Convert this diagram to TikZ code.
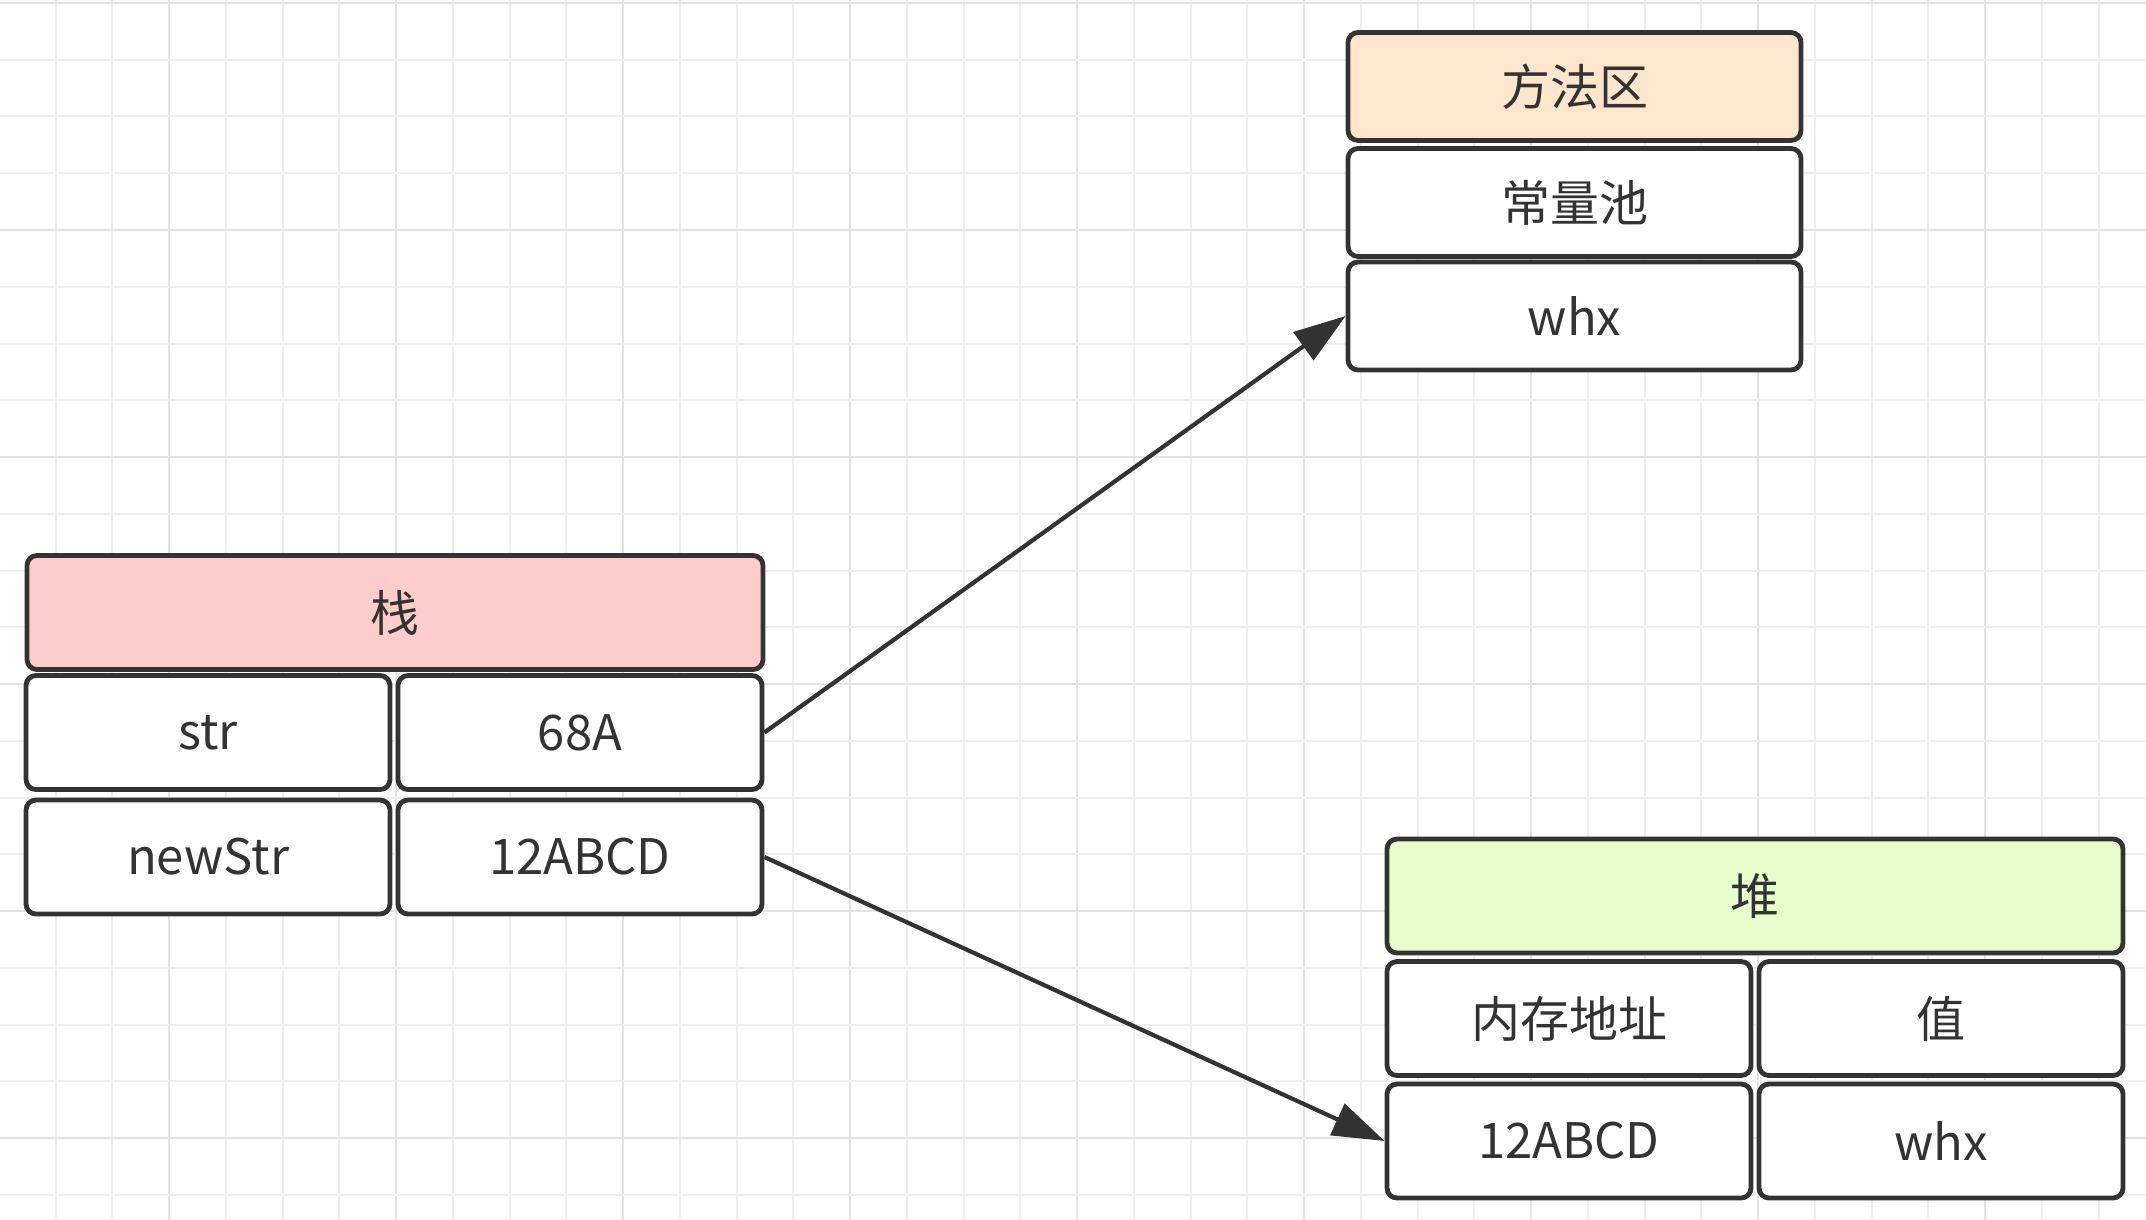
\documentclass[tikz,border=0pt]{standalone}
\usepackage{fontspec}
\setmainfont{Noto Sans CJK SC}
\usetikzlibrary{arrows.meta}
\definecolor{edge}{HTML}{333333}
\definecolor{gridminor}{HTML}{EFEFEF}
\definecolor{gridmajor}{HTML}{E3E3E3}
\definecolor{fillorange}{HTML}{FFE6CC}
\definecolor{fillred}{HTML}{FFCCCC}
\definecolor{fillgreen}{HTML}{E6FFCC}
\tikzset{
  cell/.style={draw=edge, line width=2.4pt, rounded corners=5pt, fill=white,
    inner sep=0pt, text=edge, font=\fontsize{24.5}{28}\selectfont, minimum height=54pt},
  wide/.style={cell, minimum width=268pt, minimum height=57pt},
  half/.style={cell, minimum width=182pt, minimum height=57pt},
  topcell/.style={cell, minimum width=226.5pt},
  link/.style={draw=edge, line width=2.1pt, -{Triangle[length=26pt,width=17pt]}}
}
\begin{document}
\begin{tikzpicture}[x=0.5pt,y=-0.5pt]
\useasboundingbox (0,0) rectangle (2146,1220);
\fill[white] (0,0) rectangle (2146,1220);
% grid
\foreach \k in {0,...,38} {
  \pgfmathsetmacro{\xx}{-1.25+\k*56.75}
  \pgfmathtruncatemacro{\m}{mod(\k,4)}
  \ifnum\m=3
    \draw[gridmajor, line width=1.2pt] (\xx,0) -- (\xx,1220);
  \else
    \draw[gridminor, line width=1pt] (\xx,0) -- (\xx,1220);
  \fi
}
\foreach \k in {0,...,21} {
  \pgfmathsetmacro{\yy}{3+\k*56.75}
  \pgfmathtruncatemacro{\m}{mod(\k,4)}
  \ifnum\m=0
    \draw[gridmajor, line width=1.2pt] (0,\yy) -- (2146,\yy);
  \else
    \draw[gridminor, line width=1pt] (0,\yy) -- (2146,\yy);
  \fi
}
% method area
\node[topcell, fill=fillorange] (mhead) at (1574.5,86.5) {方法区};
\node[topcell] (mpool) at (1574.5,202.5) {常量池};
\node[topcell] (mwhx) at (1574.5,316) {whx};
% stack
\node[wide, minimum width=368pt, fill=fillred] (shead) at (395,612.5) {栈};
\node[half] (sstr) at (208,732.5) {str};
\node[half] (s68) at (580,732.5) {68A};
\node[half] (snew) at (208,857) {newStr};
\node[half] (saddr) at (580,857) {12ABCD};
% heap
\node[wide, minimum width=368pt, fill=fillgreen] (hhead) at (1755,896) {堆};
\node[half] (hmem) at (1569,1018.5) {内存地址};
\node[half] (hval) at (1941,1018.5) {值};
\node[half] (haddr) at (1569,1141) {12ABCD};
\node[half] (hwhx) at (1941,1141) {whx};
% connectors
\draw[link] (s68.east) -- (mwhx.west);
\draw[link] (saddr.east) -- (haddr.west);
\end{tikzpicture}
\end{document}
